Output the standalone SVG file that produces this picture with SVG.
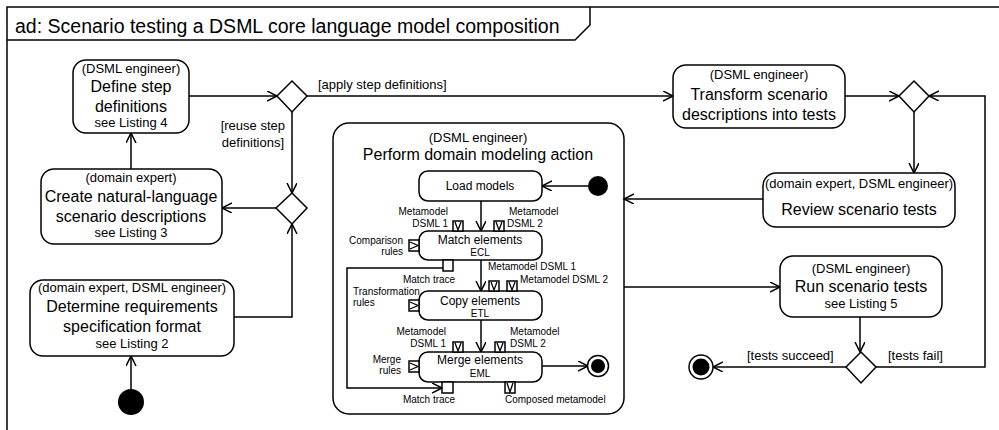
<svg xmlns="http://www.w3.org/2000/svg" width="999" height="430" viewBox="0 0 999 430">
<defs>
<style>
text{font-family:"Liberation Sans",Arial,sans-serif;fill:#000}
.n{fill:#fff;stroke:#000;stroke-width:1.5}
.big{font-size:16px;text-anchor:middle}
.sm{font-size:13px;text-anchor:middle}
.in{font-size:12px;text-anchor:middle}
.lang{font-size:10px;text-anchor:middle}
.pl{font-size:10px}
.g{font-size:13px}
.c{fill:none;stroke:#000;stroke-width:1.5}
.pin{fill:#fff;stroke:#000;stroke-width:1.5}
.pm{fill:none;stroke:#000;stroke-width:1.3}
</style>
<marker id="a" markerWidth="12" markerHeight="12" refX="10" refY="5" orient="auto" markerUnits="userSpaceOnUse">
<path d="M0,0 L10,5 L0,10" fill="none" stroke="#000" stroke-width="1.5"/>
</marker>
</defs>
<rect width="999" height="430" fill="#fff"/>
<g id="frame">
<path d="M7,440 L7,7 L1010,7" fill="none" stroke="#000" stroke-width="1.5"/>
<path d="M7,40 L575,40 L590,25 L590,7" fill="none" stroke="#000" stroke-width="1.5"/>
<text x="15" y="33" style="font-size:19.5px">ad: Scenario testing a DSML core language model composition</text>
</g>
<g id="connectors">
<path class="c" d="M189,96 L277,96" marker-end="url(#a)"/>
<path class="c" d="M307,96 L673,96" marker-end="url(#a)"/>
<path class="c" d="M292,112 L292,193" marker-end="url(#a)"/>
<path class="c" d="M276,208 L222,208" marker-end="url(#a)"/>
<path class="c" d="M131,169 L131,133" marker-end="url(#a)"/>
<path class="c" d="M234,317 L292,317 L292,224" marker-end="url(#a)"/>
<path class="c" d="M131,389 L131,356" marker-end="url(#a)"/>
<path class="c" d="M845,96 L899,96" marker-end="url(#a)"/>
<path class="c" d="M914,112 L914,173" marker-end="url(#a)"/>
<path class="c" d="M763,199 L624,199" marker-end="url(#a)"/>
<path class="c" d="M624,287 L780,287" marker-end="url(#a)"/>
<path class="c" d="M860,317 L860,352" marker-end="url(#a)"/>
<path class="c" d="M846,367 L713,367" marker-end="url(#a)"/>
<path class="c" d="M876,367 L985,367 L985,96 L929,96" marker-end="url(#a)"/>
<path class="c" d="M588,186 L542,186" marker-end="url(#a)"/>
<path class="c" d="M481,201 L481,231" marker-end="url(#a)"/>
<path class="c" d="M481,260 L481,291" marker-end="url(#a)"/>
<path class="c" d="M481,320 L481,352" marker-end="url(#a)"/>
<path class="c" d="M443,268 L347,268 L347,388 L442,388" marker-end="url(#a)"/>
<path class="c" d="M542,366 L588,366" marker-end="url(#a)"/>
<text class="g" x="318" y="89">[apply step definitions]</text>
<text class="g" x="285" y="130" text-anchor="end">[reuse step</text>
<text class="g" x="284" y="147" text-anchor="end">definitions]</text>
<text class="g" x="747" y="360">[tests succeed]</text>
<text class="g" x="888" y="360">[tests fail]</text>
</g>
<g id="define">
<rect class="n" x="73" y="60" width="116" height="73" rx="13"/>
<text class="sm" x="131" y="73">(DSML engineer)</text>
<text class="big" x="131" y="92">Define step</text>
<text class="big" x="131" y="112">definitions</text>
<text class="sm" x="131" y="127">see Listing 4</text>
</g>
<g id="create">
<rect class="n" x="41" y="169" width="181" height="75" rx="13"/>
<text class="sm" x="131" y="182">(domain expert)</text>
<text class="big" x="131" y="202">Create natural-language</text>
<text class="big" x="131" y="222">scenario descriptions</text>
<text class="sm" x="131" y="237">see Listing 3</text>
</g>
<g id="determine">
<rect class="n" x="30" y="280" width="204" height="76" rx="13"/>
<text class="sm" x="132" y="292">(domain expert, DSML engineer)</text>
<text class="big" x="132" y="312">Determine requirements</text>
<text class="big" x="132" y="332">specification format</text>
<text class="sm" x="132" y="348">see Listing 2</text>
</g>
<g id="init1"><circle cx="131" cy="402" r="13" fill="#000"/></g>
<g id="dec1"><path class="n" d="M292,81 L307,96 L292,112 L277,96 Z"/></g>
<g id="dec2"><path class="n" d="M292,193 L307,208 L292,224 L276,208 Z"/></g>
<g id="transform">
<rect class="n" x="673" y="65" width="172" height="63" rx="13"/>
<text class="sm" x="759" y="79">(DSML engineer)</text>
<text class="big" x="759" y="100">Transform scenario</text>
<text class="big" x="759" y="120">descriptions into tests</text>
</g>
<g id="dec3"><path class="n" d="M914,81 L929,96 L914,112 L899,96 Z"/></g>
<g id="review">
<rect class="n" x="763" y="173" width="192" height="54" rx="13"/>
<text class="sm" x="859" y="188">(domain expert, DSML engineer)</text>
<text class="big" x="859" y="215">Review scenario tests</text>
</g>
<g id="run">
<rect class="n" x="780" y="256" width="162" height="61" rx="13"/>
<text class="sm" x="861" y="273">(DSML engineer)</text>
<text class="big" x="861" y="292">Run scenario tests</text>
<text class="sm" x="861" y="308">see Listing 5</text>
</g>
<g id="dec4"><path class="n" d="M861,352 L876,367 L861,383 L846,367 Z"/></g>
<g id="final1">
<circle cx="701" cy="367" r="12" fill="#fff" stroke="#000" stroke-width="1.5"/>
<circle cx="701" cy="367" r="8.5" fill="#000"/>
</g>
<g id="perform">
<rect x="333" y="123" width="291" height="291" rx="16" fill="none" stroke="#000" stroke-width="1.5"/>
<text class="sm" x="478" y="142">(DSML engineer)</text>
<text class="big" x="478" y="160">Perform domain modeling action</text>
</g>
<g id="init2"><circle cx="598" cy="186" r="10" fill="#000"/></g>
<g id="load">
<rect class="n" x="419" y="171" width="123" height="30" rx="9"/>
<text class="in" x="480" y="190">Load models</text>
</g>
<g id="match">
<rect class="n" x="419" y="231" width="123" height="29" rx="9"/>
<text class="in" x="480" y="244">Match elements</text>
<text class="lang" x="480" y="256">ECL</text>
<rect class="pin" x="453" y="221" width="10" height="10"/><path class="pm" d="M455,222 L458,230 L461,222"/>
<rect class="pin" x="494" y="221" width="10" height="10"/><path class="pm" d="M496,222 L499,230 L502,222"/>
<rect class="pin" x="409" y="240" width="10" height="11"/><path class="pm" d="M410,242 L418,245.5 L410,249"/>
<rect class="pin" x="443" y="260" width="10" height="11"/>
<text class="pl" x="448" y="215" text-anchor="end">Metamodel</text>
<text class="pl" x="448" y="227" text-anchor="end">DSML 1</text>
<text class="pl" x="509" y="215">Metamodel</text>
<text class="pl" x="507" y="227">DSML 2</text>
<text class="pl" x="403" y="244" text-anchor="end">Comparison</text>
<text class="pl" x="403" y="255" text-anchor="end">rules</text>
<text class="pl" x="429" y="283" text-anchor="middle">Match trace</text>
</g>
<g id="copy">
<rect class="n" x="419" y="291" width="123" height="29" rx="9"/>
<text class="in" x="480" y="305">Copy elements</text>
<text class="lang" x="480" y="317">ETL</text>
<rect class="pin" x="489" y="281" width="10" height="10"/><path class="pm" d="M491,282 L494,290 L497,282"/>
<rect class="pin" x="507" y="281" width="10" height="10"/><path class="pm" d="M509,282 L512,290 L515,282"/>
<rect class="pin" x="409" y="300" width="10" height="11"/><path class="pm" d="M410,302 L418,305.5 L410,309"/>
<text class="pl" x="488" y="270">Metamodel DSML 1</text>
<text class="pl" x="520" y="283">Metamodel DSML 2</text>
<text class="pl" x="353" y="295">Transformation</text>
<text class="pl" x="353" y="306">rules</text>
</g>
<g id="merge">
<rect class="n" x="419" y="352" width="123" height="30" rx="9"/>
<text class="in" x="480" y="364">Merge elements</text>
<text class="lang" x="480" y="377">EML</text>
<rect class="pin" x="453" y="342" width="10" height="10"/><path class="pm" d="M455,343 L458,351 L461,343"/>
<rect class="pin" x="495" y="342" width="10" height="10"/><path class="pm" d="M497,343 L500,351 L503,343"/>
<rect class="pin" x="409" y="361" width="10" height="11"/><path class="pm" d="M410,363 L418,366.5 L410,370"/>
<rect class="pin" x="442" y="382" width="11" height="11"/>
<rect class="pin" x="505" y="382" width="10" height="11"/><path class="pm" d="M507,383 L510,392 L513,383"/>
<text class="pl" x="446" y="335" text-anchor="end">Metamodel</text>
<text class="pl" x="446" y="347" text-anchor="end">DSML 1</text>
<text class="pl" x="510" y="335">Metamodel</text>
<text class="pl" x="510" y="347">DSML 2</text>
<text class="pl" x="401" y="363" text-anchor="end">Merge</text>
<text class="pl" x="401" y="374" text-anchor="end">rules</text>
<text class="pl" x="429" y="403" text-anchor="middle">Match trace</text>
<text class="pl" x="505" y="403">Composed metamodel</text>
</g>
<g id="final2">
<circle cx="598" cy="366" r="10.5" fill="#fff" stroke="#000" stroke-width="1.5"/>
<circle cx="598" cy="366" r="7" fill="#000"/>
</g>
</svg>
